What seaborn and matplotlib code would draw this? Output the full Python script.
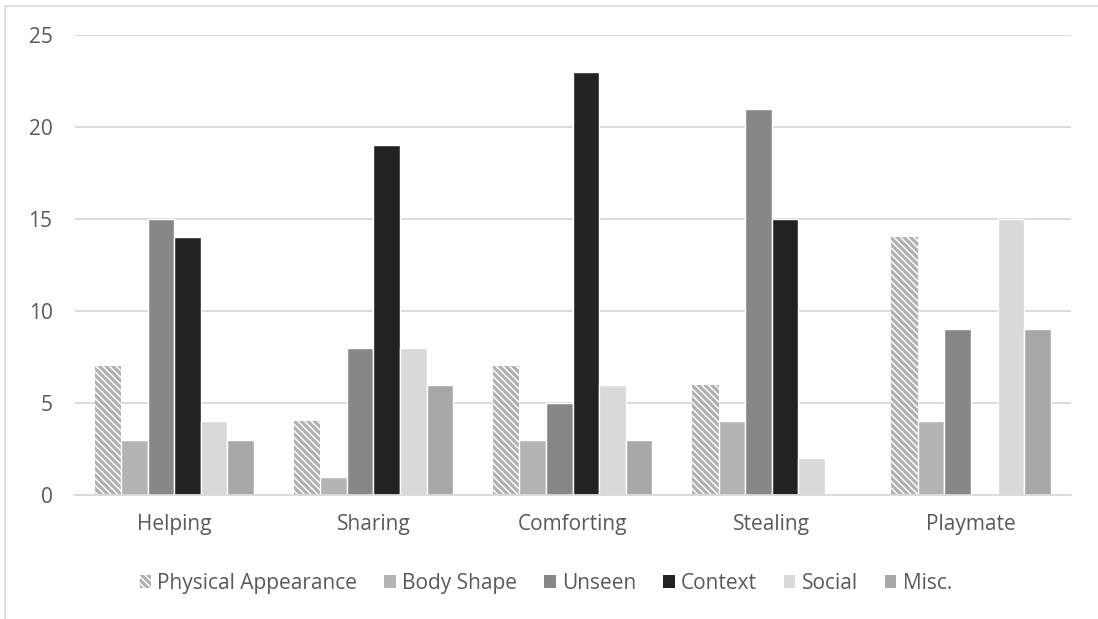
import matplotlib
matplotlib.use("Agg")
import matplotlib.pyplot as plt
from matplotlib.patches import Patch
from matplotlib.lines import Line2D
import seaborn as sns
import pandas as pd

categories = ["Helping", "Sharing", "Comforting", "Stealing", "Playmate"]
series = ["Physical Appearance", "Body Shape", "Unseen", "Context", "Social", "Misc."]
physical_appearance = [7, 4, 7, 6, 14]
body_shape = [3, 1, 3, 4, 4]
unseen = [15, 8, 5, 21, 9]
context = [14, 19, 23, 15, 0]
social = [4, 8, 6, 2, 15]
misc = [3, 6, 3, 0, 9]
y_ticks = [0, 5, 10, 15, 20, 25]

colors = ["#ffffff", "#b4b4b4", "#878787", "#222222", "#d9d9d9", "#a8a8a8"]
hatch_color = "#b0b0b0"
hatch_pattern = "\\\\\\\\\\"

values = [physical_appearance, body_shape, unseen, context, social, misc]
rows = []
for s, vals in zip(series, values):
    for c, v in zip(categories, vals):
        rows.append({"category": c, "series": s, "value": v})
df = pd.DataFrame(rows)

sns.set_theme(style="white")
plt.rcParams["font.family"] = ["Open Sans", "DejaVu Sans"]
plt.rcParams["hatch.linewidth"] = 2.3

fig = plt.figure(figsize=(10.98, 6.19), dpi=100)
ax = fig.add_axes([0.068, 0.2003, 0.907, 0.7431])

sns.barplot(data=df, x="category", y="value", hue="series", order=categories,
            hue_order=series, palette=colors, width=0.8, ax=ax,
            errorbar=None, legend=False, saturation=1)

n_cat = len(categories)
for i, bar in enumerate(ax.patches[:n_cat * len(series)]):
    s_idx = i // n_cat
    bar.set_edgecolor("white")
    bar.set_linewidth(1.0)
    if s_idx == 0:
        bar.set_facecolor("white")
        bar.set_edgecolor(hatch_color)
        bar.set_linewidth(0)
        bar.set_hatch(hatch_pattern)

ax.set_ylim(0, 25)
ax.set_yticks(y_ticks)
ax.set_xlim(-0.5, n_cat - 0.5)
ax.yaxis.grid(True, color="#d9d9d9", linewidth=1.3)
ax.set_axisbelow(True)
for side in ["top", "right", "left"]:
    ax.spines[side].set_visible(False)
ax.spines["bottom"].set_color("#d9d9d9")
ax.spines["bottom"].set_linewidth(1.3)
ax.set_xlabel("")
ax.set_ylabel("")
ax.tick_params(axis="both", length=0, labelsize=15, colors="#595959")
ax.tick_params(axis="x", pad=14)
ax.tick_params(axis="y", pad=16)

handles = []
for s, c in zip(series, colors):
    if s == "Physical Appearance":
        handles.append(Patch(facecolor="white", edgecolor=hatch_color, hatch=hatch_pattern,
                             linewidth=0, label=s))
    else:
        handles.append(Patch(facecolor=c, edgecolor="none", label=s))
fig.legend(handles=handles, loc="center", bbox_to_anchor=(0.497, 0.058), ncol=6,
           frameon=False, fontsize=15, handlelength=0.55, handleheight=0.55,
           handletextpad=0.3, columnspacing=1.3, labelcolor="#595959")

# chart area border
fig.add_artist(Line2D([5 / 1098, 5 / 1098], [0, 1 - 6 / 619], color="#d9d9d9",
                      linewidth=1.2, transform=fig.transFigure))
fig.add_artist(Line2D([5 / 1098, 1], [1 - 6 / 619, 1 - 6 / 619], color="#d9d9d9",
                      linewidth=1.2, transform=fig.transFigure))

fig.savefig("out.png", dpi=100, facecolor="white")
